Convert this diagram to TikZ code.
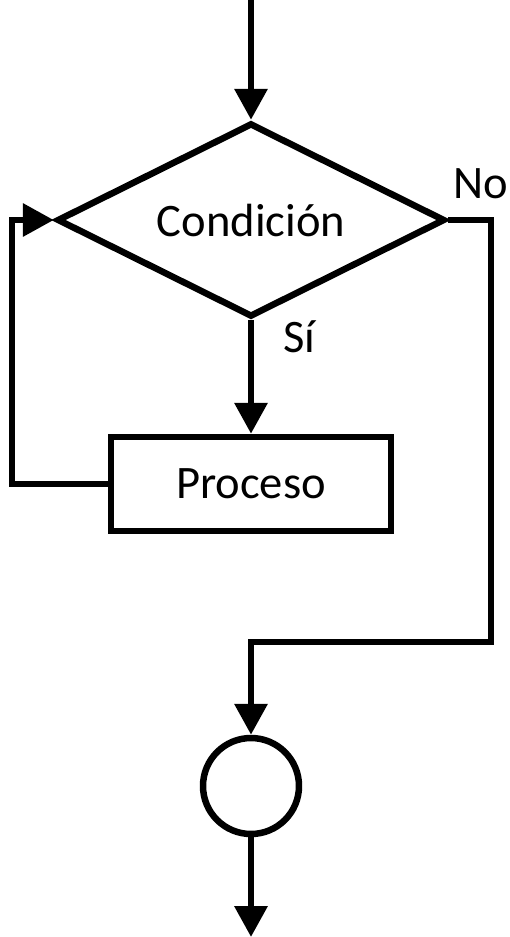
\documentclass[tikz,border=0pt]{standalone}
\usepackage{fontspec}
\setmainfont{Carlito}
\usetikzlibrary{positioning}
\usetikzlibrary{shapes.geometric}
\usetikzlibrary{arrows.meta}
\tikzset{
  fc-line/.style={line width=3.7pt, line join=miter},
  fc-arrow/.style={fc-line, -{Triangle[length=0.62cm,width=0.64cm]}},
}

\begin{document}
\begin{tikzpicture}[
  x=0.02cm, y=-0.02cm,
  every node/.style={font=\fontsize{26.5}{30}\selectfont},
  cond/.style={diamond, draw, fc-line, inner sep=0pt, aspect=2,
    minimum width=7.76cm, minimum height=3.88cm},
  proc/.style={rectangle, draw, fc-line, minimum width=5.6cm, minimum height=1.88cm},
  term/.style={circle, draw, fc-line, minimum size=1.92cm},
  lbl/.style={anchor=base west, inner sep=0pt}]
  \useasboundingbox (0,0) rectangle (510,937);

  \node[cond] (fc-cond) at (251, 220) {Condición};
  \node[proc] (fc-proc) at (251, 484) {Proceso};
  \node[term] (fc-end) at (251, 786) {};

  \coordinate (fc-in) at (251, 0);
  \coordinate (fc-no) at (491, 642);
  \coordinate (fc-loop) at (12, 220);
  \coordinate (fc-out) at (251, 937);

  \node[lbl] (fc-lno) at (453, 198) {No};
  \node[lbl] (fc-lsi) at (283, 352) {Sí};

  % flow
  \draw[fc-arrow] (fc-in) -- (fc-cond.north);
  \draw[fc-arrow] (fc-cond.south) -- (fc-proc.north);
  \draw[fc-arrow] (fc-proc.west) -| (fc-loop) -- (fc-cond.west);
  \draw[fc-arrow] (fc-cond.east) -| (fc-no) -| (fc-end.north);
  \draw[fc-arrow] (fc-end.south) -- (fc-out);
\end{tikzpicture}
\end{document}
